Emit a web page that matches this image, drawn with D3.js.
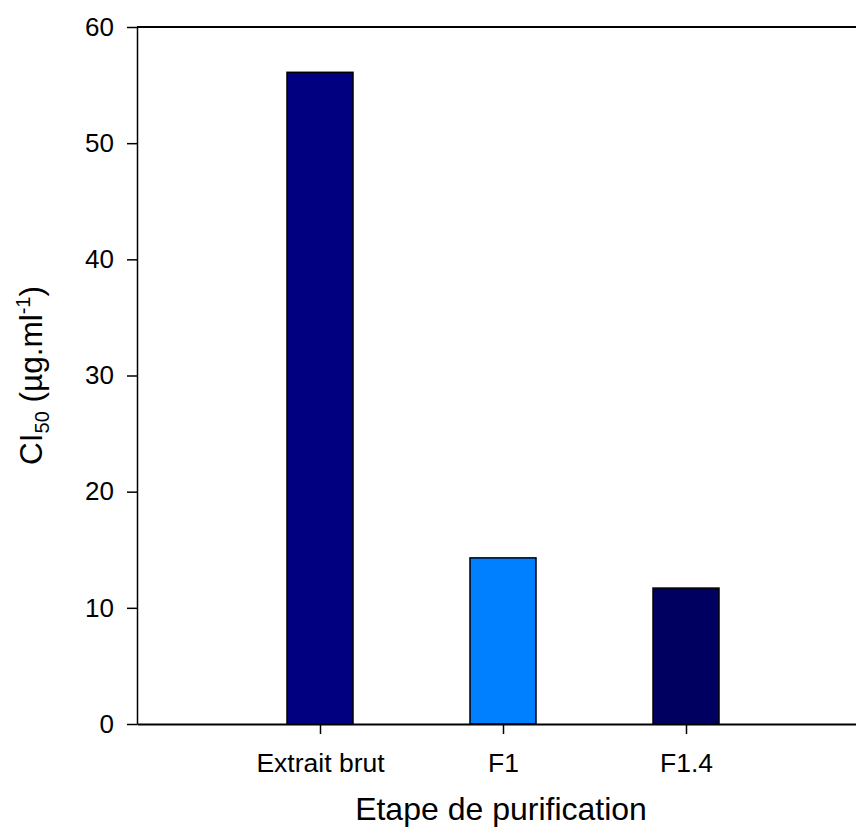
<!DOCTYPE html>
<html>
<head>
<meta charset="utf-8">
<script src="https://cdn.jsdelivr.net/npm/d3@7/dist/d3.min.js"></script>
<style>
  html, body { margin: 0; padding: 0; background: #fff; overflow: hidden; }
  svg { display: block; font-family: "Liberation Sans", Arial, sans-serif; }
</style>
</head>
<body>
<svg id="chart" width="856" height="837"></svg>
<script>
const categories = ["Extrait brut", "F1", "F1.4"];
const values = [56.1, 14.3, 11.7];
const colors = ["#000080", "#0080FF", "#000060"];
const yTicks = [0, 10, 20, 30, 40, 50, 60];

const svg = d3.select("#chart");
const plotLeft = 137, plotRight = 869, plotTop = 27, plotBottom = 724;

const x = d3.scalePoint().domain(categories).range([plotLeft, plotRight]).padding(1);
const y = d3.scaleLinear().domain([0, 60]).range([plotBottom, plotTop]);
const barW = 66;

// bars
svg.selectAll("rect.bar").data(categories).enter().append("rect")
  .attr("class", "bar")
  .attr("x", d => x(d) - barW / 2)
  .attr("y", (d, i) => y(values[i]))
  .attr("width", barW)
  .attr("height", (d, i) => y(0) - y(values[i]))
  .attr("fill", (d, i) => colors[i])
  .attr("stroke", "#000")
  .attr("stroke-width", 1.5);

// top frame line
svg.append("line")
  .attr("x1", plotLeft).attr("x2", plotRight)
  .attr("y1", y(60)).attr("y2", y(60))
  .attr("stroke", "#000").attr("stroke-width", 2);

// y axis
const yAxis = svg.append("g")
  .attr("transform", `translate(${plotLeft},0)`)
  .call(d3.axisLeft(y).tickValues(yTicks).tickSize(10).tickPadding(13).tickSizeOuter(0));
yAxis.select(".domain").attr("stroke-width", 1.5);
yAxis.selectAll(".tick line").attr("stroke-width", 1.5);
yAxis.selectAll(".tick text").attr("font-size", 26).attr("fill", "#000")
  .attr("font-family", "Liberation Sans, Arial, sans-serif");

// x axis
const xAxis = svg.append("g")
  .attr("transform", `translate(0,${plotBottom})`)
  .call(d3.axisBottom(x).tickSize(10).tickPadding(19).tickSizeOuter(0));
xAxis.select(".domain").attr("stroke-width", 2);
xAxis.selectAll(".tick line").attr("stroke-width", 1.5);
xAxis.selectAll(".tick text").attr("font-size", 26.5).attr("fill", "#000")
  .attr("font-family", "Liberation Sans, Arial, sans-serif");

// x title
svg.append("text")
  .attr("x", 501).attr("y", 820)
  .attr("text-anchor", "middle")
  .attr("font-size", 32)
  .text("Etape de purification");

// y title
const yt = svg.append("text")
  .attr("transform", `translate(42,${(plotTop + plotBottom) / 2}) rotate(-90)`)
  .attr("text-anchor", "middle")
  .attr("font-size", 31.5);
yt.append("tspan").text("CI");
yt.append("tspan").attr("font-size", 20).attr("dy", 7).text("50");
yt.append("tspan").attr("dy", -7).text(" (µg.ml");
yt.append("tspan").attr("font-size", 20).attr("dy", -12).text("-1");
yt.append("tspan").attr("dy", 12).text(")");
</script>
</body>
</html>
